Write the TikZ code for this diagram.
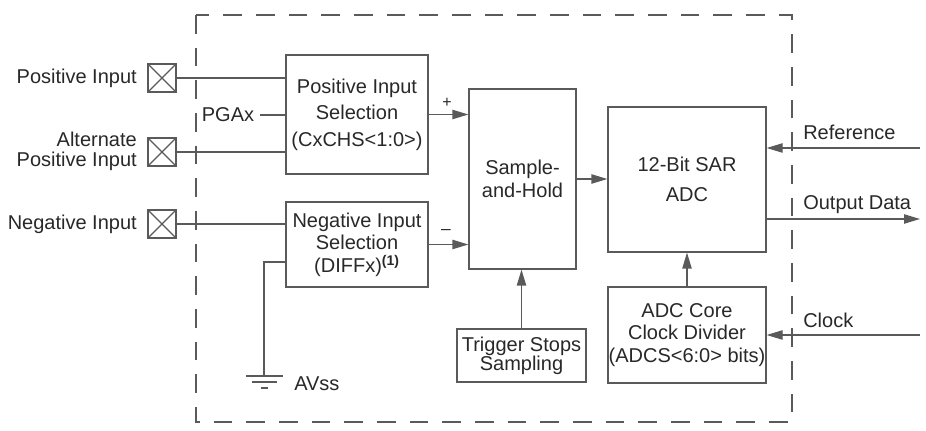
\documentclass[tikz,border=0pt]{standalone}
\usepackage{fontspec}
\setmainfont{Liberation Sans}
\usetikzlibrary{arrows.meta}
\definecolor{ln}{RGB}{90,90,90}
\definecolor{tx}{RGB}{40,40,40}
\begin{document}
\begin{tikzpicture}[x=0.75pt,y=-0.75pt,
  box/.style={draw=ln, line width=0.9pt, inner sep=0pt, align=center, text=tx, font=\fontsize{15}{17}\selectfont},
  wire/.style={draw=ln, line width=0.9pt},
  arr/.style={wire, -{Triangle[length=12pt,width=7pt]}},
  lbl/.style={text=tx, font=\fontsize{15}{17}\selectfont, inner sep=0pt},
  pinbox/.style={draw=ln, line width=0.9pt, minimum size=21pt, inner sep=0pt,
    path picture={\draw[ln, line width=0.9pt] (path picture bounding box.south west) -- (path picture bounding box.north east) (path picture bounding box.north west) -- (path picture bounding box.south east);}},
]
\useasboundingbox (0,0) rectangle (926,431);
% dashed module boundary
\draw[ln, line width=0.9pt, dash pattern=on 14pt off 10.5pt] (196,15) rectangle (792,422);

% input pins
\node[pinbox] (pp) at (162,78) {};
\node[pinbox] (ap) at (162,152) {};
\node[pinbox] (np) at (162,224) {};
\node[lbl, anchor=east] (ppl) at (137,78) {Positive Input};
\node[lbl, anchor=base east] (apl1) at (137,146.5) {Alternate};
\node[lbl, anchor=base east] (apl2) at (137,167) {Positive Input};
\node[lbl, anchor=east] (npl) at (137,224) {Negative Input};

% blocks
\node[box, minimum width=106.5pt, minimum height=89.25pt, font=\fontsize{15}{20}\selectfont] (pis) at (357,114.5) {Positive Input\\Selection\\(CxCHS<1:0>)};
\node[box, minimum width=106.5pt, minimum height=63.75pt] (nis) at (357,244.5) {Negative Input\\Selection\\(DIFFx)\textsuperscript{\textbf{(1)}}};
\node[box, minimum width=80.25pt, minimum height=135pt] (sh) at (522.5,179) {Sample-\\and-Hold};
\node[box, minimum width=118.5pt, minimum height=108.75pt, font=\fontsize{15}{22.5}\selectfont] (adc) at (687,179.5) {12-Bit SAR\\ADC};
\node[box, minimum width=118.5pt, minimum height=72pt] (cd) at (687,335) {ADC Core\\Clock Divider\\(ADCS<6:0> bits)};
\node[box, minimum width=96.75pt, minimum height=39.75pt, font=\fontsize{15}{14.5}\selectfont] (tss) at (521.5,355.5) {Trigger Stops\\Sampling};

% PGAx
\node[lbl, inner xsep=4pt] (pga) at (228,115) {PGAx};

% input wires
\draw[wire] (pp.east) -- (pp.east -| pis.west);
\draw[wire] (pga.east) -- (pga.east -| pis.west);
\draw[wire] (ap.east) -- (ap.east -| pis.west);
\draw[wire] (np.east) -- (np.east -| nis.west);

% ground
\coordinate (gtap) at (286,262);
\coordinate (gnd) at (264,376);
\draw[wire] (gtap) -| (gnd);
\draw[wire] (246,376) -- (283,376);
\draw[wire] (252,382) -- (277,382);
\draw[wire] (261,388) -- (268,388);
\node[lbl, anchor=west] (avss) at (294,384) {AVss};

% to sample and hold
\draw[arr] (pis.east) -- (pis.east -| sh.west);
\draw[arr] (nis.east) -- (nis.east -| sh.west);
\node[lbl, font=\fontsize{12}{12}\selectfont] (plus) at (447,103) {+};
\node[lbl, font=\fontsize{13}{13}\selectfont] (minus) at (446,232) {–};

\draw[arr] (sh.east) -- (sh.east -| adc.west);
\draw[arr] (tss.north) -- (tss.north |- sh.south);
\draw[arr] (cd.north) -- (adc.south);

% external signals
\coordinate (refin) at (920,148);
\coordinate (outd) at (920,219);
\coordinate (clkin) at (920,335);
\draw[arr] (refin) -- (refin -| adc.east);
\draw[arr] (outd -| adc.east) -- (outd);
\draw[arr] (clkin) -- (clkin -| cd.east);
\node[lbl, anchor=west] (refl) at (803,132) {Reference};
\node[lbl, anchor=west] (outl) at (803,205) {Output Data};
\node[lbl, anchor=west] (clkl) at (803,320) {Clock};
\end{tikzpicture}
\end{document}
